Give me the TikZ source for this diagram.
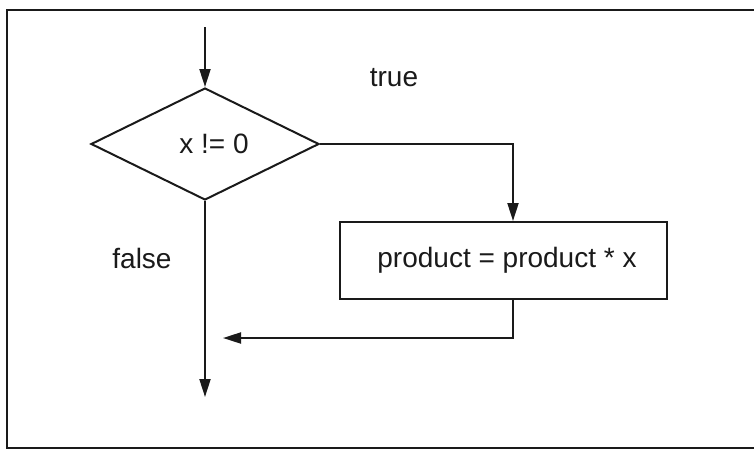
\documentclass[tikz,border=0pt]{standalone}
\usepackage{fontspec}
\setmainfont{Liberation Sans}
\usetikzlibrary{arrows.meta,calc,shapes.geometric}
\definecolor{flink}{HTML}{1A1A1A}
\definecolor{flpage}{HTML}{FFFFFF}
\tikzset{
  flcond/.style={
    draw=flink,
    shape=diamond,
    line width=2pt,
    inner sep=0pt,
    aspect=2.04,
    minimum width=228pt,
    minimum height=112pt,
    font=\fontsize{28}{32}\selectfont,
    text=flink
  },
  flstmt/.style={
    draw=flink,
    line width=2pt,
    inner sep=0pt,
    minimum width=327pt,
    minimum height=77pt,
    font=\fontsize{28}{32}\selectfont,
    text=flink
  },
  fllabel/.style={
    inner sep=0pt,
    font=\fontsize{28}{32}\selectfont,
    text=flink
  },
  fledge/.style={
    -{Triangle[length=18pt,width=11pt]},
    line width=2pt,
    color=flink
  }
}

\begin{document}
\begin{tikzpicture}[x=1pt,y=-1pt]
  \useasboundingbox (0,0) rectangle (754,450);
  \fill[flpage] (0,0) rectangle (754,450);
  % frame, open on the right
  \draw[flink,line width=2.2pt] (760,10) -- (7,10) -- (7,448) -- (760,448);

  \node[flcond] (cond) at (205,144) {\hspace*{18pt}x != 0};
  \node[flstmt] (body) at (503.5,260.5) {\hspace*{7pt}product = product * x};

  \node[fllabel] (truelbl) at (394,78) {true};
  \node[fllabel] (falselbl) at (142,258) {false};

  \coordinate (entry) at (205,27);
  \coordinate (back) at (223,338);
  \coordinate (exit) at (205,397);

  \draw[fledge] (entry) -- (cond.north);
  \draw[fledge] (cond.east) -| ([xshift=9.5pt]body.north);
  \draw[fledge] ([xshift=9.5pt]body.south) |- (back);
  \draw[fledge] (cond.south) -- (exit);
\end{tikzpicture}
\end{document}
